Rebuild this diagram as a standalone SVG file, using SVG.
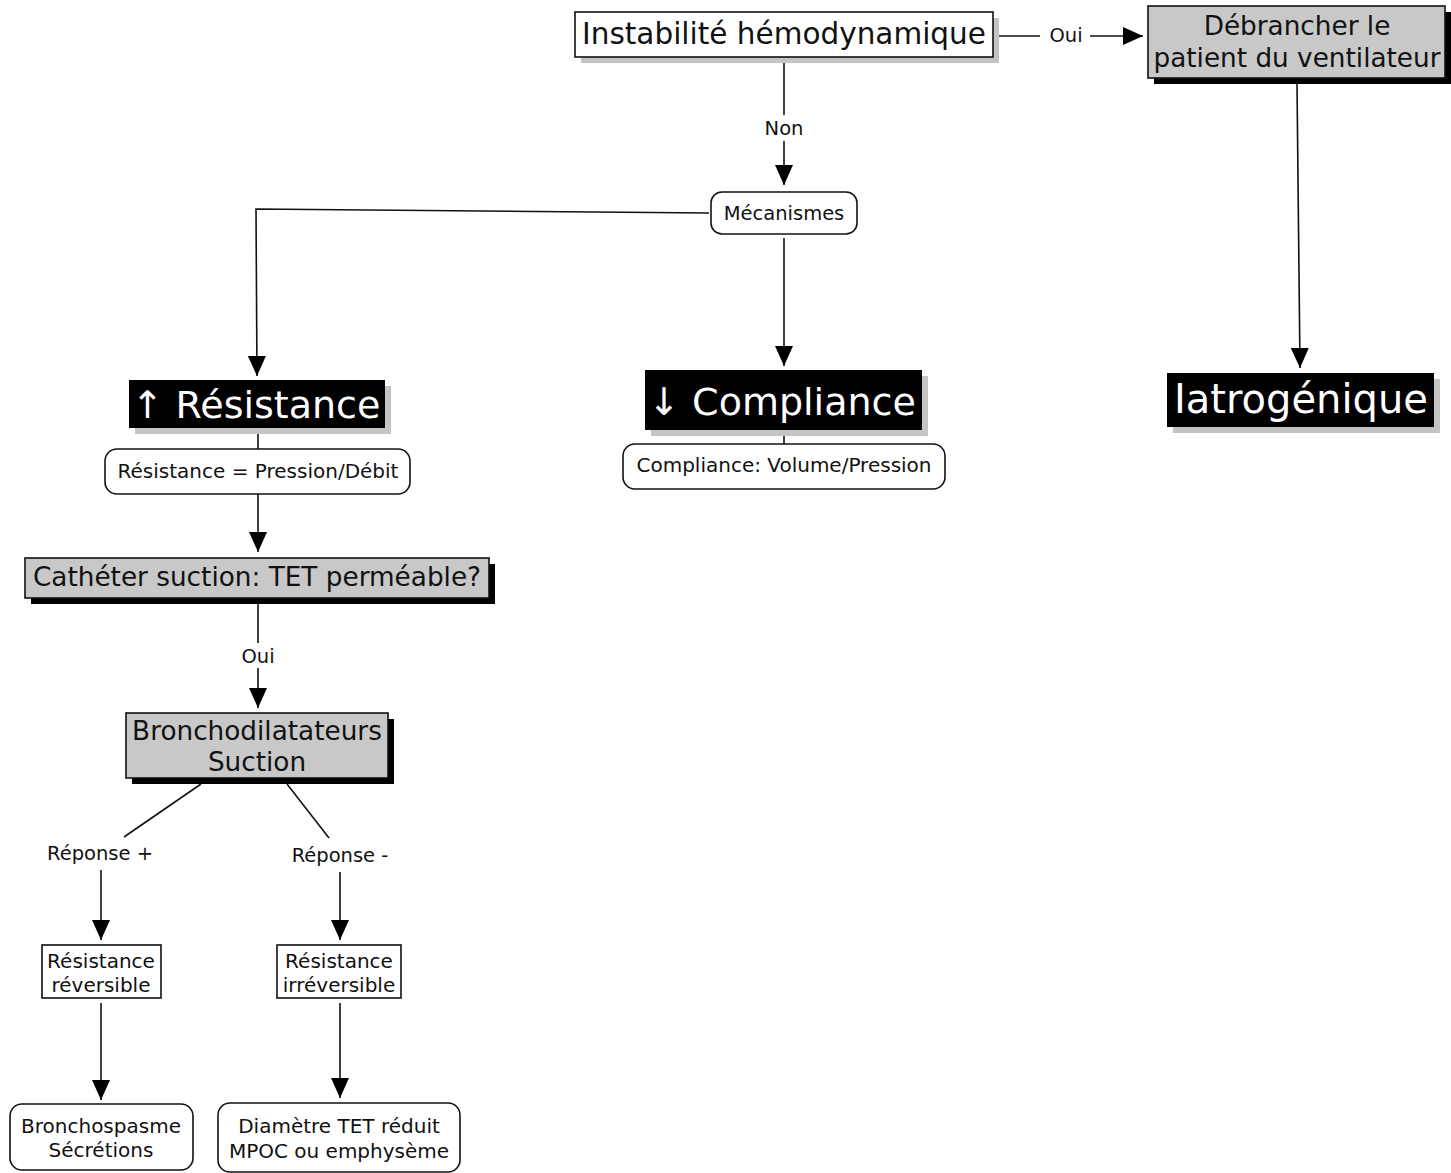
<svg xmlns="http://www.w3.org/2000/svg" width="1451" height="1173" viewBox="0 0 1451 1173">
  <style>
    text { font-family: "DejaVu Sans", Verdana, sans-serif; text-anchor: middle; fill: #111; }
    .big { font-size: 29.5px; }
    .mid { font-size: 26.3px; }
    .small { font-size: 20px; }
    .lbl { font-size: 19.5px; }
    .title { font-size: 38px; fill: #fff; }
    .plain { fill: #fff; stroke: #111; stroke-width: 1.6; }
    .grey { fill: #c8c8c8; stroke: #111; stroke-width: 1.6; }
    .dark { fill: #000; }
    .shadow-light { fill: #c4c4c4; }
    .shadow-dark { fill: #000; }
    .edge { fill: none; stroke: #111; stroke-width: 1.6; }
  </style>
  <defs>
    <marker id="head" viewBox="0 0 20 18" refX="20" refY="9" markerWidth="20" markerHeight="18" markerUnits="userSpaceOnUse" orient="auto">
      <path d="M0,0 L20,9 L0,18 z" fill="#000"/>
    </marker>
  </defs>
  <rect width="1451" height="1173" fill="#fff"/>

  <!-- connectors and their labels -->
  <g id="connectors">
    <path class="edge" d="M993,36 H1040"/>
    <path class="edge" d="M1090,36 H1143" marker-end="url(#head)"/>
    <path class="edge" d="M784,63 V115"/>
    <path class="edge" d="M784,141 V185" marker-end="url(#head)"/>
    <path class="edge" d="M1297,84 L1300,368" marker-end="url(#head)"/>
    <path class="edge" d="M709,213 L256,209 L257,376" marker-end="url(#head)"/>
    <path class="edge" d="M784,238 V366" marker-end="url(#head)"/>
    <path class="edge" d="M784,430 V444"/>
    <path class="edge" d="M258,434 V449"/>
    <path class="edge" d="M258,494 V552" marker-end="url(#head)"/>
    <path class="edge" d="M258,604 V643"/>
    <path class="edge" d="M258,668 V708" marker-end="url(#head)"/>
    <path class="edge" d="M201,784 L124,837"/>
    <path class="edge" d="M287,784 L329,838"/>
    <path class="edge" d="M101,870 V940" marker-end="url(#head)"/>
    <path class="edge" d="M340,872 V940" marker-end="url(#head)"/>
    <path class="edge" d="M101,1003 V1100" marker-end="url(#head)"/>
    <path class="edge" d="M340,1003 V1098" marker-end="url(#head)"/>
    <text class="lbl" x="1066" y="42">Oui</text>
    <text class="lbl" x="784" y="135">Non</text>
    <text class="lbl" x="258" y="663">Oui</text>
    <text class="lbl" x="100" y="860">Réponse +</text>
    <text class="lbl" x="340" y="862">Réponse -</text>
  </g>

  <g id="instabilite">
    <rect class="shadow-light" x="581" y="18" width="418" height="45"/>
    <rect class="plain" x="575" y="12" width="418" height="45"/>
    <text class="big" x="784" y="44">Instabilité hémodynamique</text>
  </g>

  <g id="debrancher">
    <rect class="shadow-dark" x="1154" y="12" width="297" height="72"/>
    <rect class="grey" x="1148" y="6" width="297" height="72"/>
    <text class="mid" x="1297" y="35">Débrancher le</text>
    <text class="mid" x="1297" y="67">patient du ventilateur</text>
  </g>

  <g id="mecanismes">
    <rect class="plain" x="711" y="192" width="146" height="42" rx="11"/>
    <text class="lbl" x="784" y="220">Mécanismes</text>
  </g>

  <g id="iatrogenique">
    <rect class="shadow-light" x="1173" y="379" width="267" height="54"/>
    <rect class="dark" x="1167" y="373" width="267" height="54"/>
    <text class="title" x="1301" y="413" style="font-size:40px">Iatrogénique</text>
  </g>

  <g id="compliance">
    <rect class="shadow-light" x="651" y="376" width="277" height="60"/>
    <rect class="dark" x="645" y="370" width="277" height="60"/>
    <text class="title" x="782" y="415">↓ Compliance</text>
  </g>

  <g id="compliance-def">
    <rect class="plain" x="623" y="444" width="322" height="45" rx="12"/>
    <text class="small" x="784" y="472">Compliance: Volume/Pression</text>
  </g>

  <g id="resistance">
    <rect class="shadow-light" x="135" y="386" width="256" height="48"/>
    <rect class="dark" x="129" y="380" width="256" height="48"/>
    <text class="title" x="256" y="418">↑ Résistance</text>
  </g>

  <g id="resistance-def">
    <rect class="plain" x="105" y="449" width="305" height="45" rx="12"/>
    <text class="small" x="258" y="478">Résistance = Pression/Débit</text>
  </g>

  <g id="catheter">
    <rect class="shadow-dark" x="31" y="564" width="464" height="40"/>
    <rect class="grey" x="25" y="558" width="464" height="40"/>
    <text class="mid" x="257" y="586">Cathéter suction: TET perméable?</text>
  </g>

  <g id="bronchodilatateurs">
    <rect class="shadow-dark" x="132" y="719" width="262" height="65"/>
    <rect class="grey" x="126" y="713" width="262" height="65"/>
    <text class="mid" x="257" y="740">Bronchodilatateurs</text>
    <text class="mid" x="257" y="771">Suction</text>
  </g>

  <g id="reversible">
    <rect class="plain" x="42" y="945" width="119" height="53"/>
    <text class="small" x="101" y="968">Résistance</text>
    <text class="small" x="101" y="992">réversible</text>
  </g>

  <g id="irreversible">
    <rect class="plain" x="277" y="945" width="124" height="53"/>
    <text class="small" x="339" y="968">Résistance</text>
    <text class="small" x="339" y="992">irréversible</text>
  </g>

  <g id="bronchospasme">
    <rect class="plain" x="10" y="1104" width="183" height="66" rx="12"/>
    <text class="small" x="101" y="1133">Bronchospasme</text>
    <text class="small" x="101" y="1157">Sécrétions</text>
  </g>

  <g id="diametre">
    <rect class="plain" x="218" y="1103" width="242" height="69" rx="12"/>
    <text class="small" x="339" y="1133">Diamètre TET réduit</text>
    <text class="small" x="339" y="1158">MPOC ou emphysème</text>
  </g>
</svg>
